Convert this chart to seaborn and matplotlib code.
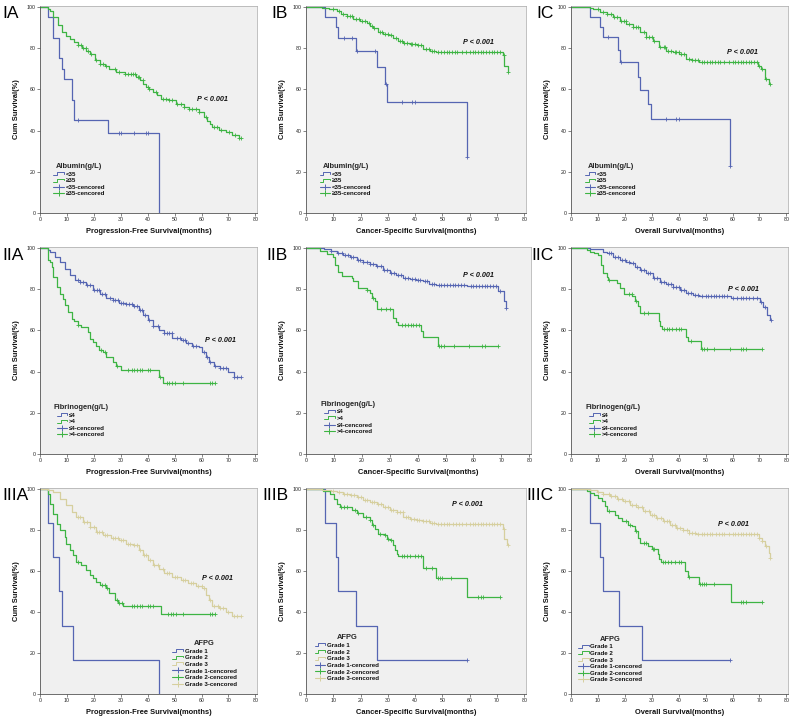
import numpy as np
import matplotlib
matplotlib.use("Agg")
import matplotlib.pyplot as plt
import seaborn as sns
from matplotlib.lines import Line2D
from matplotlib.legend_handler import HandlerBase

# ---------------- data (times in months, survival in %) ----------------
# Panel IA : PFS by Albumin
ia_lo_t = [0, 3.1, 4.9, 7.0, 8.2, 8.9, 12.0, 12.6, 25.2, 44.3]
ia_lo_s = [100, 95, 85, 75, 70, 65, 55, 45, 38.6, 0]
ia_lo_c = [14, 29.2, 30.2, 35, 39.4, 40.2]
ia_hi_t = [0, 3, 3.7, 5, 6.8, 8, 9.5, 11, 12.5, 14.2, 15.5, 17.2, 18.5, 20.3, 22.2, 24, 25.8, 28.3, 31.4,
           35.7, 37, 38.3, 39.4, 40.5, 41.8, 43.5, 45, 48, 50.5, 53.5, 55.4, 59, 61, 62, 63, 64, 66.5, 69, 71.4, 73.8]
ia_hi_s = [100, 99, 98, 95, 91, 88, 86, 84.4, 83, 81.5, 80, 78.8, 77, 74.3, 72.3, 71.5, 70, 68.3, 67.2,
           66.2, 64.3, 62.5, 61, 60, 58.7, 57, 55.5, 54.7, 53, 51.4, 50.2, 49, 46.6, 44.7, 43, 41.8, 40.2, 39.4, 37.8, 36.2]
ia_hi_c = [14.2, 15.1, 16, 17, 17.8, 19, 20.9, 22.2, 23.4, 24.6, 27.7, 29.3, 31.4, 32.6, 33.8, 34.5, 35.4, 36.3,
           36.9, 38.2, 40, 40.6, 43.1, 45.5, 46.8, 48, 49.2, 51, 52.3, 53.5, 55.4, 56.6, 57.8, 59.1, 61.5, 64.6,
           65.8, 67.1, 70.2, 72.4, 73.8, 74.8]

# Panel IB : CSS by Albumin
ib_lo_t = [0, 7, 11.1, 11.9, 18.2, 25.9, 28.9, 29.8, 59]
ib_lo_s = [100, 95, 90, 85, 78.6, 70.7, 62.5, 53.9, 27]
ib_lo_c = [14, 16.8, 18.8, 25.3, 29.3, 35, 39, 40, 59]
ib_hi_t = [0, 6, 8.5, 10, 11.3, 13, 15, 17.4, 19.8, 22.2, 23.5, 24.7, 26.5, 28.3, 30.2, 32, 33.8, 35.6, 38,
           40.5, 42.9, 45.3, 47.8, 72, 72.7, 73.9]
ib_hi_s = [100, 99.5, 99, 98.9, 98, 96.5, 95.5, 94, 93.2, 92, 90.8, 89.7, 88, 87, 86.3, 84.9, 83.3, 82.3, 82,
           81.7, 79.6, 78.8, 78, 76.4, 71.5, 68.6]
ib_hi_c = [10, 12, 13.5, 15, 16, 17, 18.5, 19.5, 20.5, 21.5, 23, 24, 25, 27, 28, 29, 30, 31, 33, 34.5, 35, 36,
           37, 38.5, 39, 40, 41, 42, 44, 45, 46, 47, 48.5, 49.5, 50.5, 51.5, 52.5, 53.5, 54.5, 55.5, 57, 58.5,
           60, 61, 62, 63, 64, 65, 66, 67, 68, 69, 70, 71, 72.5, 74]

# Panel IC : OS by Albumin
ic_lo_t = [0, 7.1, 10.8, 11.8, 17.3, 18.1, 24.9, 25.7, 28.6, 29.8, 59]
ic_lo_s = [100, 95, 90, 85.3, 79, 73, 66.2, 59.6, 53, 45.5, 22.7]
ic_lo_c = [13.8, 18.7, 35.3, 39, 40, 59]
ic_hi_t = [0, 7.1, 8.3, 10.8, 13.2, 15.7, 18.1, 20.6, 23, 25.5, 27.9, 30.4, 32.8, 35.3, 37.7, 40.2, 42.6, 45,
           47.5, 69.5, 70.7, 72.2, 73.5]
ic_hi_s = [100, 99.5, 98.9, 97.7, 96.5, 94.9, 93.2, 91.6, 90, 87.6, 85.5, 83.6, 80.4, 78.8, 78, 77.2, 74.8, 74,
           73.2, 71.5, 69.9, 65, 62.4]
ic_hi_c = [10, 12, 13.5, 15, 16, 17, 18.5, 19.5, 20.5, 21.5, 23, 24, 25, 27, 28, 29, 30, 31, 33, 34.5, 35, 36,
           37, 38.5, 39, 40, 41, 42, 44, 45, 46, 47, 48.5, 49.5, 50.5, 51.5, 52.5, 53.5, 54.5, 55.5, 57, 58.5,
           60, 61, 62, 63, 64, 65, 66, 67, 68, 69, 70, 71, 72.5, 74]

# Panel IIA : PFS by Fibrinogen
iia_lo_t = [0, 3, 3.7, 5.5, 7.4, 9.2, 11, 12.9, 14.8, 17.2, 19.7, 22.2, 24.6, 27, 29.5, 32, 34.5, 36.9, 38.2,
            40, 41.8, 44.3, 46, 49.2, 52.3, 54.2, 56.6, 59, 60.3, 61.5, 62.8, 64.6, 67, 70, 72]
iia_lo_s = [100, 99, 97.9, 95.5, 93, 89.9, 86.6, 84.5, 83.4, 81.8, 79.4, 77.8, 75.8, 74.6, 73.4, 72.6, 71.7,
            69.7, 67.3, 64.9, 62, 60, 58.5, 56.5, 55.3, 54, 52.3, 51.7, 49.6, 47.2, 44.7, 42.7, 41.5, 39.9, 37.5]
iia_lo_c = [14, 15, 16, 17.5, 18.5, 20, 21, 22, 23, 24, 26, 27, 28, 29, 30, 31, 32, 33, 34, 35, 36, 37, 38, 39,
            40.5, 42, 44, 46, 47, 48, 49, 51, 52, 53, 54, 55, 57, 58, 61, 62, 63, 65, 67, 68, 69, 72, 73, 74.5]
iia_hi_t = [0, 3.1, 3.7, 4.3, 4.9, 6.2, 7.4, 8.6, 9.2, 10.5, 11.7, 12.6, 14.2, 15.4, 17.8, 18.5, 19.7, 20.9,
            21.9, 23.4, 24.6, 27, 28.3, 30.2, 44.3, 45.5]
iia_hi_s = [100, 94, 93, 90.7, 85.8, 81, 77.8, 75.4, 72.1, 69, 65.7, 64.4, 62.5, 61.4, 59.3, 56, 54.5, 52.3,
            50.4, 49.6, 47.2, 44.7, 42.7, 40.7, 37.5, 34.3]
iia_hi_c = [14.2, 22.5, 24, 28.7, 32.5, 34, 35, 36, 37, 38, 40, 41, 44.5, 47, 48, 49, 50, 53, 63, 64, 65]

# Panel IIB : CSS by Fibrinogen
iib_lo_t = [0, 6.3, 9, 11, 13.4, 15.8, 18.1, 20.5, 22.9, 25.2, 27.6, 30, 32.3, 34.7, 37.1, 39.5, 41.8, 44.2,
            46.6, 57.8, 68.8, 70.8, 71.5]
iib_lo_s = [100, 99.2, 98.6, 97.6, 96.5, 95.4, 94.1, 93.3, 92.2, 91.3, 89.3, 88, 86.9, 85.3, 84.8, 84.5, 84,
            82.6, 82.1, 81.3, 79.2, 74.4, 71]
iib_lo_c = [9, 11.5, 13, 14, 15, 16, 17, 18.5, 19.5, 20.5, 22, 23, 24, 25.5, 27, 28, 29, 30.5, 31.5, 33, 34,
            35.5, 36.5, 38, 39, 40, 41, 42.5, 43.5, 45, 46, 47.5, 48.5, 49.5, 50.5, 51.5, 52.5, 53.5, 54.5, 55.5,
            56.5, 59, 60, 61, 62, 63, 64, 65, 66, 67, 68, 69.5, 71.7]
iib_hi_t = [0, 5, 7.4, 9.8, 10.4, 11.6, 12.8, 16.4, 17, 18.7, 21.7, 22.9, 23.5, 24.7, 25.3, 31.2, 32.4, 33,
            41.2, 42, 47.2]
iib_hi_s = [100, 98.6, 96.9, 95.7, 91.7, 88.5, 86.1, 85.3, 83.7, 80.5, 79.7, 78.1, 75.7, 74.1, 70.1, 66.1,
            63.9, 62.5, 59.8, 56.6, 52.6]
iib_hi_c = [22, 24, 27, 28.5, 30, 34.5, 35.5, 36.5, 37.5, 38.5, 39.5, 40.5, 47.8, 48.5, 49.3, 53, 58.5, 63,
            64, 68.8]

# Panel IIC : OS by Fibrinogen
iic_lo_t = [0, 7.1, 12, 13.3, 15.7, 18.2, 20.6, 21.9, 23.7, 25.6, 28, 30.5, 32.9, 35.4, 37.8, 40.3, 42.8,
            45.2, 47.7, 59.3, 70.3, 71.3, 72.8, 73.8]
iic_lo_s = [100, 99.3, 98, 97.3, 95.7, 94.1, 93.2, 92.4, 90.8, 89.2, 87.6, 85.2, 83.6, 82.3, 81.2, 79.6, 78,
            77.2, 76.4, 75.5, 73.5, 71.5, 67.5, 64.8]
iic_lo_c = [14, 15, 16.5, 17.5, 19, 20, 21.5, 23, 24.5, 26, 27, 28.5, 29.5, 31, 32, 33.5, 34.5, 36, 37, 38, 39,
            40, 41, 42, 43.5, 44.5, 46, 47, 48.5, 50, 51, 52, 53, 54, 55, 56, 57, 58, 60, 61.5, 63, 64, 65, 66,
            67.5, 69, 70.5, 72, 74.3]
iic_hi_t = [0, 5.9, 7.1, 8.4, 10.2, 11.1, 12, 13.3, 13.9, 17, 18.2, 19.5, 22.6, 23.8, 25, 25.6, 32.5, 33.1,
            33.7, 42.6, 43.6, 48.1]
iic_hi_s = [100, 99, 98, 97.3, 96.5, 91.6, 87.6, 86, 84.4, 82.8, 80.4, 77.5, 76.4, 74, 72, 68.2, 64.3, 61.9,
            60.8, 56.8, 54.7, 51.1]
iic_hi_c = [14, 21.5, 22.5, 24, 27, 28.5, 34.5, 35.5, 36.5, 37.5, 39, 40, 41, 44.5, 48.5, 49.3, 50.5, 53, 59,
            63, 64, 65, 71]

# Panel IIIA : PFS by AFPG
iiia_g1_t = [0, 3.1, 4.9, 7, 8.2, 12.1, 44.3]
iiia_g1_s = [100, 83.3, 66.7, 50, 33.3, 16.7, 0]
iiia_g1_c = []
iiia_g2_t = [0, 3.1, 3.7, 4.9, 6.2, 7.4, 9.2, 9.8, 11.1, 12.3, 13.3, 15.4, 17.2, 18.5, 19.7, 20.9, 22.2, 24.6,
             25.8, 27.7, 28.9, 30.8, 44.9]
iiia_g2_s = [100, 97.6, 92.7, 87.9, 83, 79.8, 76.5, 73.3, 70.1, 67.6, 64.4, 62.8, 60.4, 57.9, 56.3, 54.7, 53.1,
             51.5, 49, 45.8, 44.2, 42.9, 38.8]
iiia_g2_c = [14.2, 23, 24, 25, 28.5, 29.5, 30.5, 34, 35, 36, 37, 38, 40, 41, 42, 47.5, 48.5, 49.5, 50.5, 53,
             63, 64, 65]
iiia_g3_t = [0, 3, 4.9, 7.4, 9.8, 11.7, 13.5, 16, 18.5, 20.9, 23.4, 26.5, 29.5, 32, 34.5, 36.9, 38.2, 40, 41.8,
             44.3, 46.2, 49.2, 52.3, 54.8, 57.8, 60.3, 61.5, 62.8, 64, 66.5, 68.9, 71.4]
iiia_g3_s = [100, 99.5, 98.4, 95.1, 91.9, 88.7, 86.2, 83.8, 81.4, 79, 77.3, 76.2, 74.9, 73.3, 72.5, 70.1, 67.6,
             65.2, 62.8, 60.7, 59.1, 57.1, 55.5, 53.9, 52.6, 51.5, 48.3, 45.8, 42.9, 41.7, 40.1, 38]
iiia_g3_c = [14, 15, 16.5, 17.5, 18.5, 20, 21, 22, 23, 24, 25, 27, 28, 29, 30, 31, 32.5, 33.5, 35, 36, 37,
             38.5, 39.5, 41, 42.5, 44, 45.5, 47, 48, 50, 51, 53, 54, 56, 57, 58.5, 60, 61, 63, 64.5, 66, 67,
             68, 70, 72, 73, 74.5]

# Panel IIIB : CSS by AFPG
iiib_g1_t = [0, 7, 11.1, 11.9, 18.2, 25.9]
iiib_g1_s = [100, 83.3, 66.7, 50, 33.3, 16.7]
iiib_g1_c = [59]
iiib_g2_t = [0, 6.4, 8.9, 10.1, 11.3, 12.5, 16.8, 18.6, 21, 23.5, 24.1, 25.3, 26.5, 28.9, 29.5, 30.8, 31.7,
             32.6, 33.2, 33.8, 42.9, 47.8, 59]
iiib_g2_s = [100, 98.7, 97.6, 95.1, 92.7, 91.1, 89.5, 88.2, 86.2, 85, 82.2, 80.6, 78.2, 77.3, 75.7, 74.9, 72.5,
             70.4, 68.4, 67.1, 61.2, 56.3, 47.4]
iiib_g2_c = [13, 14, 15, 18, 19, 22, 23.5, 24.5, 27, 29, 30, 31, 35, 36, 37, 38, 40, 41, 42, 44, 46, 48.5, 49,
             50, 53, 63, 64, 65, 71]
iiib_g3_t = [0, 6, 9, 11.3, 13.7, 16.2, 18.6, 21, 23.5, 25.9, 28.3, 30.8, 33.2, 35.6, 38.1, 40.5, 42.9, 45.3,
             47.8, 72.1, 72.7, 73.5, 73.9]
iiib_g3_s = [100, 99.5, 99, 98.4, 97.6, 96.8, 96, 94.7, 93.5, 92.4, 91.1, 89.8, 88.7, 86.2, 85.4, 84.9, 84.3,
             83.3, 82.7, 80.6, 75.7, 73.3, 72.5]
iiib_g3_c = [10, 12, 14, 15, 16.5, 17.5, 19, 20, 21.5, 22.5, 24, 25, 26.5, 27.5, 29, 30, 31, 32, 33.5, 34.5,
             35.5, 36.5, 37.5, 38.5, 39.5, 40.5, 41.5, 43, 44, 45, 46, 47, 48.5, 49.5, 50.5, 51.5, 52.5, 54, 55,
             56, 57, 58.5, 60, 61, 62, 63, 64, 65, 66, 67, 68, 69, 70, 71, 72.5, 74]

# Panel IIIC : OS by AFPG
iiic_g1_t = [0, 7.1, 10.8, 11.8, 17.9, 26.2]
iiic_g1_s = [100, 83.3, 66.7, 50, 33.3, 16.7]
iiic_g1_c = [59]
iiic_g2_t = [0, 6, 7.1, 8.4, 10.2, 11.4, 12.7, 13.3, 16.3, 17.6, 18.8, 21.3, 22.5, 23.7, 24.9, 25.6, 28.6,
             29.9, 32.3, 32.7, 33.5, 42.5, 43.4, 47.7, 59.3]
iiic_g2_s = [100, 99, 98, 97, 95.5, 93.9, 91.5, 89.1, 87.4, 85.8, 84.2, 82.6, 81.8, 79.4, 76.2, 73.8, 72.1,
             70.5, 68.1, 65.7, 64.1, 60.1, 56.9, 53.6, 44.8]
iiic_g2_c = [14, 20.5, 22, 24, 27, 28, 30.5, 31, 34, 35, 36, 37, 38.5, 40, 41, 44, 48, 48.5, 49.3, 50, 53, 63,
             64, 65, 71]
iiic_g3_t = [0, 6, 7.1, 9.6, 12, 14.5, 17, 19.4, 21.9, 24.3, 26.8, 29.2, 31.7, 34.2, 36.6, 39.1, 41.5, 44,
             46.4, 69.8, 71, 72.2, 73.5, 73.9]
iiic_g3_s = [100, 99.7, 99.5, 98.4, 97.4, 96.3, 95.2, 93.9, 92.3, 91, 89.1, 87.4, 85.8, 84.2, 82.6, 81, 79.7,
             78.6, 77.8, 76.2, 74.6, 72.1, 68.9, 66.2]
iiic_g3_c = [10, 12, 14, 15, 16.5, 17.5, 19, 20, 21.5, 22.5, 24, 25, 26.5, 27.5, 29, 30, 31, 32, 33.5, 34.5,
             35.5, 36.5, 37.5, 38.5, 39.5, 40.5, 41.5, 43, 44, 45, 46, 47, 48.5, 49.5, 50.5, 51.5, 52.5, 54, 55,
             56, 57, 58.5, 60, 61, 62, 63, 64, 65, 66, 67, 68, 69, 70, 71, 72.5, 74]

panel_labels = ["IA", "IB", "IC", "IIA", "IIB", "IIC", "IIIA", "IIIB", "IIIC"]
x_labels = ["Progression-Free Survival(months)", "Cancer-Specific Survival(months)", "Overall Survival(months)"]
y_label = "Cum Survival(%)"
legend_titles = ["Albumin(g/L)", "Fibrinogen(g/L)", "AFPG"]
group_names = [["<35", "\u226535"], ["\u22644", ">4"], ["Grade 1", "Grade 2", "Grade 3"]]
p_text = "P < 0.001"
x_ticks = [0, 10, 20, 30, 40, 50, 60, 70, 80]
y_ticks = [0, 20, 40, 60, 80, 100]

# ---------------- style ----------------
sns.set_theme(style="white")
plt.rcParams["font.family"] = ["Liberation Sans", "DejaVu Sans"]

BLUE = "#5565B2"
GREEN = "#3DB443"
TAN = "#D6CF9E"
BG = "#F0F0F0"

W, H = 794, 722
fig = plt.figure(figsize=(W / 100, H / 100), dpi=100)

col_px = [(40, 257), (306, 526), (571, 788)]
row_px = [(6, 213), (247, 454), (488, 694)]


class StepHandler(HandlerBase):
    def create_artists(self, legend, orig_handle, xdescent, ydescent, width, height, fontsize, trans):
        x0, y0 = -xdescent, -ydescent
        xs = [x0, x0 + 0.35 * width, x0 + 0.35 * width, x0 + width, x0 + width]
        ys = [y0 + 0.15 * height, y0 + 0.15 * height, y0 + 0.85 * height, y0 + 0.85 * height, y0 + 0.45 * height]
        ln = Line2D(xs, ys, color=orig_handle.get_color(), lw=0.7, transform=trans)
        return [ln]


def draw_curve(ax, t, s, c, color):
    t = list(t)
    s = list(s)
    end = max([t[-1]] + list(c))
    xs = t + ([end] if end > t[-1] else [])
    ys = s + ([s[-1]] if end > t[-1] else [])
    sns.lineplot(x=xs, y=ys, drawstyle="steps-post", estimator=None, sort=False,
                 color=color, linewidth=0.9, ax=ax)
    if len(c):
        idx = np.searchsorted(t, c, side="right") - 1
        cy = np.asarray(s)[idx]
        sns.scatterplot(x=list(c), y=list(cy), marker="+", s=10, color=color,
                        linewidth=0.6, ax=ax, zorder=3)


panels = [
    dict(curves=[(ia_lo_t, ia_lo_s, ia_lo_c), (ia_hi_t, ia_hi_s, ia_hi_c)], p=(64, 55), leg=(0.062, 0.08)),
    dict(curves=[(ib_lo_t, ib_lo_s, ib_lo_c), (ib_hi_t, ib_hi_s, ib_hi_c)], p=(63, 82.5), leg=(0.062, 0.08)),
    dict(curves=[(ic_lo_t, ic_lo_s, ic_lo_c), (ic_hi_t, ic_hi_s, ic_hi_c)], p=(63.5, 77.7), leg=(0.064, 0.08)),
    dict(curves=[(iia_lo_t, iia_lo_s, iia_lo_c), (iia_hi_t, iia_hi_s, iia_hi_c)], p=(67, 55.2), leg=(0.062, 0.08)),
    dict(curves=[(iib_lo_t, iib_lo_s, iib_lo_c), (iib_hi_t, iib_hi_s, iib_hi_c)], p=(61.6, 86.4), leg=(0.066, 0.095)),
    dict(curves=[(iic_lo_t, iic_lo_s, iic_lo_c), (iic_hi_t, iic_hi_s, iic_hi_c)], p=(63.9, 80), leg=(0.068, 0.08)),
    dict(curves=[(iiia_g1_t, iiia_g1_s, iiia_g1_c), (iiia_g2_t, iiia_g2_s, iiia_g2_c),
                 (iiia_g3_t, iiia_g3_s, iiia_g3_c)], p=(65.8, 56.3), leg=(0.61, 0.035)),
    dict(curves=[(iiib_g1_t, iiib_g1_s, iiib_g1_c), (iiib_g2_t, iiib_g2_s, iiib_g2_c),
                 (iiib_g3_t, iiib_g3_s, iiib_g3_c)], p=(59, 92.2), leg=(0.04, 0.062)),
    dict(curves=[(iiic_g1_t, iiic_g1_s, iiic_g1_c), (iiic_g2_t, iiic_g2_s, iiic_g2_c),
                 (iiic_g3_t, iiic_g3_s, iiic_g3_c)], p=(60.2, 82.6), leg=(0.033, 0.056)),
]

label_pos = {0: (2, "left"), 1: (288, "right"), 2: (554, "right")}
label_y = [13, 255, 496]

for k, pnl in enumerate(panels):
    r, cidx = divmod(k, 3)
    l, rr = col_px[cidx]
    if k == 4:
        rr = 531
    t, b = row_px[r]
    ax = fig.add_axes([l / W, 1 - b / H, (rr - l) / W, (b - t) / H])
    ax.set_facecolor(BG)
    colors = [BLUE, GREEN, TAN][:len(pnl["curves"])]
    for (ct, cs, cc), col in zip(pnl["curves"], colors):
        draw_curve(ax, ct, cs, cc, col)
    ax.set_xlim(0, 80.6)
    ax.set_ylim(0, 100.4)
    ax.set_xticks(x_ticks)
    ax.set_yticks(y_ticks)
    ax.tick_params(axis="both", labelsize=3.8, length=2, width=0.5, pad=1, color="#555555",
                   labelcolor="#222222", bottom=True, left=True)
    for side in ["top", "right"]:
        ax.spines[side].set_color("#A8A8A8")
        ax.spines[side].set_linewidth(0.5)
    for side in ["left", "bottom"]:
        ax.spines[side].set_color("#555555")
        ax.spines[side].set_linewidth(0.6)
    ax.set_xlabel(x_labels[cidx], fontsize=5.4, fontweight="bold", labelpad=4, color="#111111")
    ax.set_ylabel(y_label, fontsize=5.4, fontweight="bold", labelpad=5, color="#111111")
    ax.text(pnl["p"][0], pnl["p"][1], p_text, fontsize=5.2, fontweight="bold", style="italic",
            ha="center", va="center", color="#111111")

    names = group_names[r]
    handles, labels, hmap = [], [], {}
    for nm, col in zip(names, colors):
        h = Line2D([], [], color=col, lw=0.8)
        handles.append(h)
        labels.append(nm)
        hmap[h] = StepHandler()
    for nm, col in zip(names, colors):
        h = Line2D([], [], color=col, lw=0.8, marker="+", markersize=4, markeredgewidth=0.7,
                   markeredgecolor=col, markerfacecolor=col)
        handles.append(h)
        labels.append(nm + "-cencored")
    leg = ax.legend(handles, labels, title=legend_titles[r], handler_map=hmap, loc="lower left",
                    bbox_to_anchor=pnl["leg"], frameon=False, prop={"size": 4.4, "weight": "bold"},
                    title_fontsize=5.4, handlelength=1.7, handletextpad=0.3, labelspacing=0.22,
                    borderpad=0, borderaxespad=0)
    leg.get_title().set_fontweight("bold")
    for txt in leg.get_texts():
        txt.set_color("#111111")

    lx, ha = label_pos[cidx]
    fig.text(lx / W, 1 - label_y[r] / H, panel_labels[k], fontsize=12.5, ha=ha, va="center", color="#000000")

fig.savefig("out.png", dpi=100, facecolor="white")
